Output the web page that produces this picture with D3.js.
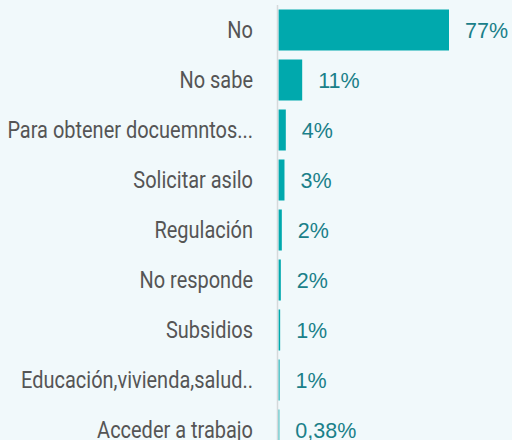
<!DOCTYPE html>
<html>
<head>
<meta charset="utf-8">
<script src="https://cdn.jsdelivr.net/npm/d3@7"></script>
<style>
  body { margin: 0; background: #f1f9fb; }
  svg { display: block; }
</style>
</head>
<body>
<svg id="chart" width="512" height="440"></svg>
<script>
var categories = ["No", "No sabe", "Para obtener docuemntos...", "Solicitar asilo",
                  "Regulación", "No responde", "Subsidios", "Educación,vivienda,salud..",
                  "Acceder a trabajo"];
var values = [77, 10.7, 3.3, 2.7, 1.5, 1.05, 0.75, 0.5, 0.38];
var valueLabels = ["77%", "11%", "4%", "3%", "2%", "2%", "1%", "1%", "0,38%"];

var svg = d3.select("#chart");
var width = +svg.attr("width");
var height = +svg.attr("height");

var left = 278.5;
var x = d3.scaleLinear().domain([0, 77]).range([left, left + 170.5]);
var y = d3.scaleBand().domain(categories).range([5, 455]).paddingInner(0.18).paddingOuter(0.09);

svg.append("rect").attr("width", width).attr("height", height).attr("fill", "#f1f9fb");

svg.selectAll(".bar")
  .data(values)
  .enter().append("rect")
    .attr("class", "bar")
    .attr("x", x(0))
    .attr("y", function(d, i) { return y(categories[i]); })
    .attr("width", function(d) { return x(d) - x(0); })
    .attr("height", y.bandwidth())
    .attr("fill", "#00a9ad");

// axis line
svg.append("line")
  .attr("x1", left - 1).attr("x2", left - 1)
  .attr("y1", 5).attr("y2", height)
  .attr("stroke", "#d5d9db")
  .attr("stroke-width", 1.5);

// category labels, squeezed a bit to look like the narrow original font
svg.selectAll(".cat")
  .data(categories)
  .enter().append("text")
    .attr("class", "cat")
    .attr("transform", function(d) {
      return "translate(253," + (y(d) + y.bandwidth() / 2) + ") scale(0.85,1)";
    })
    .attr("dy", "0.36em")
    .attr("text-anchor", "end")
    .style("font-family", "Roboto, sans-serif")
    .style("font-size", "23.5px")
    .style("fill", "#555555")
    .text(function(d) { return d; });

svg.selectAll(".val")
  .data(values)
  .enter().append("text")
    .attr("class", "val")
    .attr("x", function(d) { return x(d) + 16; })
    .attr("y", function(d, i) { return y(categories[i]) + y.bandwidth() / 2; })
    .attr("dy", "0.36em")
    .style("font-family", "'Liberation Sans', Arial, sans-serif")
    .style("font-size", "21.5px")
    .style("fill", "#1a8089")
    .text(function(d, i) { return valueLabels[i]; });
</script>
</body>
</html>
